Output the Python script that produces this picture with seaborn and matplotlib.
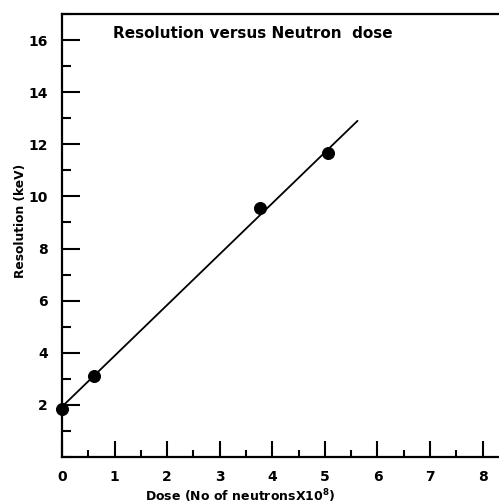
import matplotlib
matplotlib.use("Agg")
import matplotlib.pyplot as plt
import seaborn as sns
import pandas as pd
from matplotlib.ticker import MultipleLocator

# Data
dose = [0.0, 0.6, 3.77, 5.05]
resolution = [1.85, 3.12, 9.55, 11.65]
fit_dose = [0.0, 5.62]
fit_resolution = [1.93, 12.9]

x_ticks = [0, 1, 2, 3, 4, 5, 6, 7, 8]
y_ticks = [2, 4, 6, 8, 10, 12, 14, 16]

title = "Resolution versus Neutron  dose"
xlabel = r"Dose (No of neutronsX10$^{8}$)"
ylabel = "Resolution (keV)"

sns.set_style("ticks")
plt.rcParams['font.family'] = ['DejaVu Sans']
plt.rcParams['font.weight'] = 'bold'
plt.rcParams['mathtext.default'] = 'bf'
for key in ['text.color', 'axes.labelcolor', 'xtick.color', 'ytick.color',
            'xtick.labelcolor', 'ytick.labelcolor']:
    plt.rcParams[key] = 'black'

fig = plt.figure(figsize=(4.99, 5.04), dpi=100)
ax = fig.add_axes([62 / 499, (504 - 457) / 504, 1 - 62 / 499 + 0.002, (457 - 14) / 504])

pts = pd.DataFrame({"dose": dose, "res": resolution})
fit = pd.DataFrame({"dose": fit_dose, "res": fit_resolution})

sns.lineplot(data=fit, x="dose", y="res", ax=ax, color="black", linewidth=1.3)
sns.scatterplot(data=pts, x="dose", y="res", ax=ax, color="black", s=75,
                edgecolor="black", zorder=5, clip_on=False)

ax.set_xlim(0, 8.33)
ax.set_ylim(0, 17)
ax.set_xticks(x_ticks)
ax.set_yticks(y_ticks)
ax.xaxis.set_minor_locator(MultipleLocator(0.5))
ax.yaxis.set_minor_locator(MultipleLocator(1))
ax.tick_params(axis="both", which="both", direction="in", width=1.5, color="black")
ax.tick_params(axis="x", which="major", pad=9.5, length=11.5, labelsize=10)
ax.tick_params(axis="y", which="major", pad=10, length=13, labelsize=10)
ax.tick_params(axis="x", which="minor", length=5)
ax.tick_params(axis="y", which="minor", length=6.5)
for lab in ax.get_xticklabels() + ax.get_yticklabels():
    lab.set_fontweight("bold")

for side in ["left", "bottom", "top"]:
    ax.spines[side].set_linewidth(1.6)
    ax.spines[side].set_color("black")
ax.spines["right"].set_visible(False)

ax.set_xlabel(xlabel, fontsize=9, fontweight="bold")
ax.set_ylabel(ylabel, fontsize=8.8, fontweight="bold")
ax.xaxis.set_label_coords((240 - 62) / 437, -(501 - 457) / 443)
ax.xaxis.label.set_va("baseline")
ax.yaxis.set_label_coords((21 - 62) / 437, (457 - 221) / 443)
ax.yaxis.label.set_va("center")
ax.text((113 - 62) / 437, (457 - 34) / 443, title, transform=ax.transAxes,
        fontsize=11, fontweight="bold", ha="left", va="center")

fig.savefig("out.png", dpi=100)
